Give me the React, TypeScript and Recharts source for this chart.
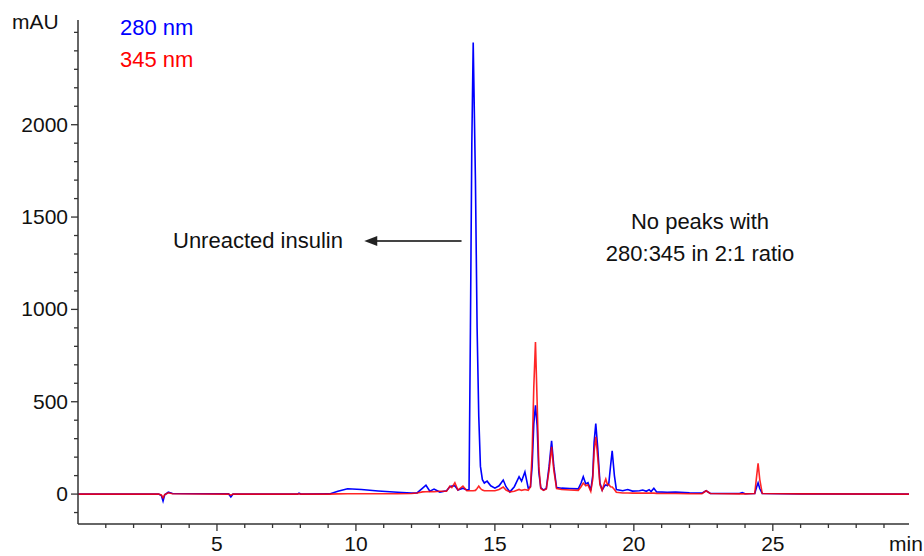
import React from "react";
import { LineChart, Line, XAxis, YAxis, ReferenceLine, Customized } from "recharts";

// retention time (min) and absorbance (mAU)
const times = [
  0, 2.9, 3.0, 3.06, 3.12, 3.25, 3.4, 5.42, 5.5, 5.58, 7.9, 7.95, 8.02,
  9.05, 9.35, 9.7, 10.2, 10.8, 11.5, 12.0, 12.2, 12.4, 12.52, 12.66, 12.81, 13.02, 13.26, 13.38, 13.45, 13.56, 13.67, 13.85, 13.99,
  14.07, 14.12, 14.17, 14.22, 14.3, 14.36, 14.42, 14.48, 14.55, 14.62, 14.72, 14.85, 15.0, 15.15, 15.3, 15.4, 15.54, 15.7, 15.87, 15.96, 16.08, 16.2,
  16.28, 16.34, 16.4, 16.46, 16.52, 16.58, 16.65, 16.75, 16.85, 16.95, 17.04, 17.12, 17.22, 17.4, 17.7, 18.0, 18.1, 18.18, 18.27, 18.35,
  18.45, 18.52, 18.57, 18.63, 18.7, 18.78, 18.86, 18.95, 18.99, 19.05, 19.1, 19.16, 19.22, 19.3, 19.37,
  19.6, 19.78, 19.95, 20.2, 20.32, 20.45, 20.55, 20.62, 20.72, 20.82, 21.2, 21.5, 22.0, 22.45, 22.6, 22.75, 23.8, 23.9, 24.0, 24.35,
  24.42, 24.47, 24.53, 24.62, 26.0, 29.9,
];

const abs280 = [
  0, 0, -8, -38, -4, 10, 3, 1, -15, 0, 0, 5, 0,
  1, 15, 29, 25, 17, 10, 6, 6, 32, 48, 16, 27, 11, 18, 40, 43, 45, 22, 32, 22,
  25, 900, 1900, 2445, 1700, 900, 420, 150, 78, 60, 70, 45, 32, 45, 76, 40, 12, 40, 94, 70, 120, 32,
  40, 150, 380, 481, 370, 120, 35, 22, 30, 150, 288, 150, 35, 32, 30, 28, 60, 94, 55, 62,
  20, 100, 280, 382, 250, 60, 22, 45, 50, 45, 60, 150, 234, 100, 25,
  18, 25, 16, 18, 22, 15, 24, 14, 32, 12, 10, 11, 7, 5, 18, 4, 3, 8, 2, 3,
  40, 61, 30, 3, 1, 0,
];

const abs345 = [
  0, 0, -5, -20, -3, 7, 2, 0, -6, 0, 0, 2, 0,
  0, 1, 2, 2, 2, 2, 3, 6, 12, 13, 14, 13, 15, 15, 43, 35, 61, 22, 43, 18,
  18, 18, 18, 18, 20, 30, 43, 30, 22, 18, 18, 18, 18, 25, 38, 22, 12, 15, 25, 20, 25, 20,
  40, 220, 580, 823, 500, 150, 30, 20, 28, 130, 256, 130, 30, 25, 22, 20, 40, 60, 45, 50,
  15, 80, 230, 310, 200, 50, 20, 65, 81, 50, 52, 40, 38, 25, 10,
  6, 6, 5, 5, 5, 5, 5, 5, 5, 4, 3, 3, 2, 2, 18, 3, 1, 1, 1, 3,
  100, 166, 80, 3, 1, 0,
];

const xTicks = [1, 2, 3, 4, 5, 6, 7, 8, 9, 10, 11, 12, 13, 14, 15, 16, 17, 18, 19, 20, 21, 22, 23, 24, 25, 26, 27, 28, 29];
const xLabels = [5, 10, 15, 20, 25];
const yTicks = [-100, 0, 100, 200, 300, 400, 500, 600, 700, 800, 900, 1000, 1100, 1200, 1300, 1400, 1500, 1600, 1700, 1800, 1900, 2000, 2100, 2200, 2300, 2400, 2500];
const yLabels = [0, 500, 1000, 1500, 2000];

const data = times.map((t, i) => ({ t, a280: abs280[i], a345: abs345[i] }));

const FONT = '"Liberation Sans", Arial, sans-serif';
const AXIS = "#333333";

const XTick = (props: any) => {
  const { x, y, payload } = props;
  const major = xLabels.includes(payload.value);
  return (
    <g>
      <line x1={x} y1={y} x2={x} y2={y + (major ? 7 : 4)} stroke={AXIS} strokeWidth={1.3} />
      {major && (
        <text x={x} y={y + 27} textAnchor="middle" fontSize={21} fontFamily={FONT} fill="#111">
          {payload.value}
        </text>
      )}
    </g>
  );
};

const YTick = (props: any) => {
  const { x, y, payload } = props;
  const major = yLabels.includes(payload.value);
  return (
    <g>
      <line x1={x - (major ? 7 : 4)} y1={y} x2={x} y2={y} stroke={AXIS} strokeWidth={1.3} />
      {major && (
        <text x={x - 10} y={y + 7} textAnchor="end" fontSize={21} fontFamily={FONT} fill="#111">
          {payload.value}
        </text>
      )}
    </g>
  );
};

const Arrow = (props: any) => {
  const { x1, y1, x2, y2 } = props;
  return (
    <g>
      <line x1={x1} y1={y1} x2={x2 + 8} y2={y2} stroke="#444" strokeWidth={2} />
      <polygon points={`${x2},${y2} ${x2 + 13},${y2 - 5} ${x2 + 13},${y2 + 5}`} fill="#222" />
    </g>
  );
};

const Texts = () => (
  <g fontFamily={FONT}>
    <text x={12} y={29} fontSize={21} fill="#111">mAU</text>
    <text x={120} y={35} fontSize={22} fill="#0000ff">280 nm</text>
    <text x={120} y={67} fontSize={22} fill="#ff0000">345 nm</text>
    <text x={889} y={551} fontSize={21} fill="#111">min</text>
    <text x={173} y={248} fontSize={22} fill="#111">Unreacted insulin</text>
    <text x={700} y={229} fontSize={22} fill="#111" textAnchor="middle">No peaks with</text>
    <text x={700} y={261} fontSize={22} fill="#111" textAnchor="middle">280:345 in 2:1 ratio</text>
  </g>
);

export default function App() {
  return (
    <div style={{ position: "absolute", left: 0, top: 0, background: "#fff" }}>
      <LineChart width={924} height={556} data={data} margin={{ top: 20, right: 15, left: 18, bottom: 0 }}>
        <XAxis
          dataKey="t"
          type="number"
          domain={[0, 29.9]}
          ticks={xTicks}
          interval={0}
          tick={<XTick />}
          tickLine={false}
          tickSize={0}
          tickMargin={0}
          height={32}
          axisLine={{ stroke: AXIS, strokeWidth: 1.5 }}
          allowDataOverflow
        />
        <YAxis
          type="number"
          domain={[-162, 2567]}
          ticks={yTicks}
          interval={0}
          tick={<YTick />}
          tickLine={false}
          tickSize={0}
          tickMargin={0}
          width={60}
          axisLine={{ stroke: AXIS, strokeWidth: 1.5 }}
          allowDataOverflow
        />
        <Line type="linear" dataKey="a280" stroke="#0000ff" strokeWidth={1.6} dot={false} isAnimationActive={false} />
        <Line type="linear" dataKey="a345" stroke="#ff0000" strokeOpacity={0.85} strokeWidth={1.6} dot={false} isAnimationActive={false} />
        <ReferenceLine segment={[{ x: 13.8, y: 1370 }, { x: 10.3, y: 1370 }]} shape={<Arrow />} />
        <Customized component={<Texts />} />
      </LineChart>
    </div>
  );
}
